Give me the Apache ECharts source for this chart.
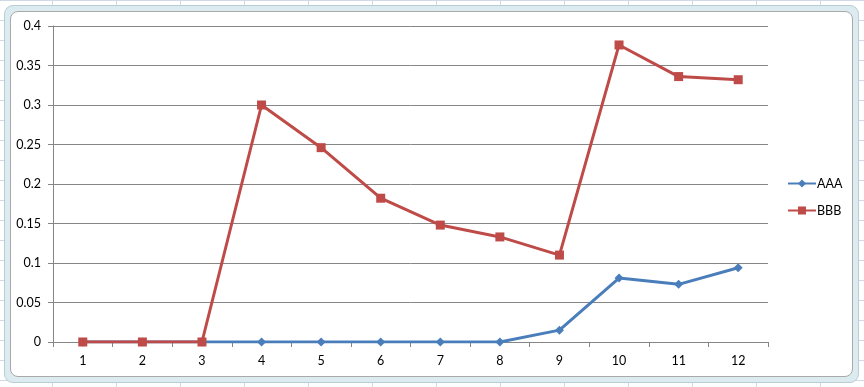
<!DOCTYPE html>
<html>
<head>
<meta charset="utf-8">
<script src="https://cdn.jsdelivr.net/npm/echarts@6/dist/echarts.min.js"></script>
<style>
  html, body { margin: 0; padding: 0; width: 864px; height: 387px; overflow: hidden; }
  body {
    background-color: #ffffff;
    background-image:
      linear-gradient(to right, #d0d7e5 1px, transparent 1px),
      linear-gradient(to bottom, #d0d7e5 1px, transparent 1px);
    background-size: 64px 20px;
    background-position: -12px 0px;
    position: relative;
  }
  #band {
    position: absolute; left: 4px; top: 5px; width: 855px; height: 378px;
    background: #dcebef; border: 1px solid #b9cdd4; border-radius: 9px; box-sizing: border-box;
  }
  #inner {
    position: absolute; left: 10px; top: 11px; width: 843px; height: 366px;
    background: #ffffff; border: 1px solid #a9a9a9; border-radius: 8px; box-sizing: border-box;
  }
  #chart { position: absolute; left: 0; top: 0; width: 864px; height: 387px; }
</style>
</head>
<body>
<div id="band"></div>
<div id="inner"></div>
<div id="chart"></div>
<script>
const categories = ['1','2','3','4','5','6','7','8','9','10','11','12'];
const seriesNames = ['AAA','BBB'];
const aaaValues = [0, 0, 0, 0, 0, 0, 0, 0, 0.015, 0.081, 0.073, 0.094];
const bbbValues = [0, 0, 0, 0.300, 0.246, 0.182, 0.148, 0.133, 0.110, 0.376, 0.336, 0.332];

const chart = echarts.init(document.getElementById('chart'), null, { renderer: 'canvas' });
const font = 'Lato, "Open Sans", sans-serif';
chart.setOption({
  animation: false,
  backgroundColor: 'transparent',
  textStyle: { fontFamily: font },
  grid: { left: 53, right: 96, top: 26, bottom: 45, containLabel: false },
  legend: {
    orient: 'vertical',
    left: 782,
    top: 172,
    itemWidth: 28,
    itemHeight: 10,
    itemGap: 14,
    data: seriesNames,
    textStyle: { fontFamily: font, fontSize: 12.5, color: '#000', padding: [0, 0, 0, -4] },
  },
  xAxis: {
    type: 'category',
    data: categories,
    boundaryGap: true,
    axisLine: { lineStyle: { color: '#868686', width: 1 } },
    axisTick: { show: true, length: 5, lineStyle: { color: '#868686' }, alignWithLabel: false },
    axisLabel: { color: '#000', fontSize: 12.5, margin: 12, fontFamily: font },
    splitLine: { show: false }
  },
  yAxis: {
    type: 'value',
    min: 0, max: 0.4, interval: 0.05,
    axisLine: { show: true, lineStyle: { color: '#868686', width: 1 } },
    axisTick: { show: true, length: 5, lineStyle: { color: '#868686' } },
    axisLabel: { color: '#000', fontSize: 12.5, margin: 12, fontFamily: font,
      formatter: v => String(parseFloat(v.toFixed(2))) },
    splitLine: { show: true, lineStyle: { color: '#868686', width: 1 } }
  },
  series: [
    {
      name: 'AAA', type: 'line', data: aaaValues,
      symbol: 'diamond', symbolSize: 9,
      lineStyle: { color: '#4a7ebb', width: 3 },
      itemStyle: { color: '#4a7ebb' },
      z: 2
    },
    {
      name: 'BBB', type: 'line', data: bbbValues,
      symbol: 'rect', symbolSize: 9,
      lineStyle: { color: '#be4b48', width: 3 },
      itemStyle: { color: '#be4b48' },
      z: 3
    }
  ]
});
</script>
</body>
</html>
